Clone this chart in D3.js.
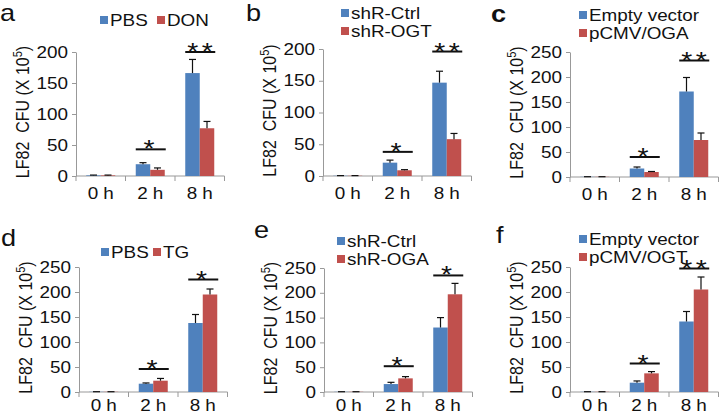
<!DOCTYPE html>
<meta charset="utf-8">
<style>
body {
  margin: 0;
  padding: 0;
  background: #fff;
}
text {
  font-family: "Liberation Sans", Arial, sans-serif;
  fill: #111;
}
.axis path, .axis line {
  stroke: #999;
  stroke-width: 1px;
}
.axis text {
  font-size: 16px;
}
</style>
<body>
<script src="https://cdn.jsdelivr.net/npm/d3@7/dist/d3.min.js"></script>
<script>

// ---- data ----
var times = ["0 h", "2 h", "8 h"];
var panelLetters = ["a", "b", "c", "d", "e", "f"];
var blueNames = ["PBS", "shR-Ctrl", "Empty vector", "PBS", "shR-Ctrl", "Empty vector"];
var redNames = ["DON", "shR-OGT", "pCMV/OGA", "TG", "shR-OGA", "pCMV/OGT"];
var yMaxes = [200, 200, 250, 250, 250, 250];

var blueValues = [[1, 19, 166], [0.4, 21, 147], [0.4, 17, 171], [0.4, 16.6, 138], [0.4, 16, 130], [0.4, 18.6, 141]];
var blueErrors = [[0.5, 2.5, 22], [0.2, 4, 18], [0.2, 3, 28], [0.2, 1.5, 17], [0.2, 3.5, 20], [0.2, 3.5, 20]];
var redValues = [[1, 10, 77], [0.4, 9, 58], [0.4, 10, 74], [0.4, 22.6, 195], [0.4, 27.5, 197], [0.4, 37.3, 205]];
var redErrors = [[0.5, 3, 11], [0.2, 1, 9], [0.2, 1, 14], [0.2, 4.5, 11], [0.2, 3.5, 22], [0.2, 3.5, 25]];

// significance marks at 2 h and 8 h, and the height of their bars (data units)
var sigStars = [["*", "**"], ["*", "**"], ["*", "**"], ["*", "*"], ["*", "*"], ["*", "**"]];
var sigLevels = [[43, 200], [38, 196], [40, 233], [46, 225], [52, 235], [57, 247]];

var yTitle = "LF82\u00a0\u00a0CFU (X 10";

// ---- layout (pixels) ----
var W = 719, H = 416;
var axisX = [76, 323, 570, 79, 324, 570];
var baseY = [176, 176, 177, 392, 392, 392];
var topY = [52, 49, 52, 267, 268, 267];
var tickLabelY = [23, 23, 23, 19, 19, 19];
var bandW = 49.5;
var barW = 14.5;
var letterPos = [[0, 21], [246, 21], [491, 22], [1, 246], [254, 238], [496, 243]];
var legendX = [100, 341, 579, 101, 337, 579];
var legendY = [26, 19, 21, 258, 247, 245];
var legendRows = [false, true, true, false, true, true];
var legendGap = [57, 0, 0, 52, 0, 0];
var kx = 1.18; // the figure is a little wider than tall

var blue = "#4f81bd", red = "#c0504d";

var svg = d3.select("body").append("svg")
    .attr("width", W)
    .attr("height", H);

// widen a text horizontally around its own anchor
function widen(t, x, y, extra) {
  t.attr("x", null).attr("y", null)
   .attr("transform", "translate(" + x + "," + y + ") scale(" + kx + ",1)" + (extra || ""));
  return t;
}

panelLetters.forEach(function(letter, p) {
  var g = svg.append("g");
  var x0 = axisX[p];

  var x = d3.scaleBand()
      .domain(times)
      .range([x0, x0 + 3 * bandW]);

  var xs = d3.scaleBand()
      .domain(["blue", "red"])
      .range([(bandW - 2 * barW) / 2, (bandW + 2 * barW) / 2]);

  var y = d3.scaleLinear()
      .domain([0, yMaxes[p]])
      .range([baseY[p], topY[p]]);

  // y axis
  var ya = g.append("g")
      .attr("class", "axis")
      .attr("transform", "translate(" + x0 + ",0)")
      .call(d3.axisLeft(y)
        .tickValues(d3.range(0, yMaxes[p] + 1, 50))
        .tickSizeInner(4)
        .tickSizeOuter(0)
        .tickPadding(4));
  ya.selectAll(".tick text").each(function() {
    widen(d3.select(this), -8, 0);
  });

  // x axis
  var xa = g.append("g")
      .attr("class", "axis")
      .attr("transform", "translate(0," + baseY[p] + ")");
  xa.append("line")
      .attr("x1", x0).attr("x2", x0 + 3 * bandW);
  xa.selectAll(".tk")
    .data(d3.range(4))
    .enter().append("line")
      .attr("x1", function(i) { return x0 + i * bandW; })
      .attr("x2", function(i) { return x0 + i * bandW; })
      .attr("y1", 0).attr("y2", 5);
  xa.selectAll(".lbl")
    .data(times)
    .enter().append("text")
      .attr("text-anchor", "middle")
      .text(function(d) { return d; })
      .each(function(d) {
        widen(d3.select(this), x(d) + bandW / 2, tickLabelY[p]);
      });

  // bars + error bars
  var series = [
    {key: "blue", color: blue, vals: blueValues[p], errs: blueErrors[p]},
    {key: "red", color: red, vals: redValues[p], errs: redErrors[p]}
  ];
  series.forEach(function(s) {
    times.forEach(function(t, i) {
      var bx = x(t) + xs(s.key);
      var cx = bx + xs.bandwidth() / 2;
      g.append("rect")
          .attr("x", bx)
          .attr("y", y(s.vals[i]))
          .attr("width", xs.bandwidth())
          .attr("height", y(0) - y(s.vals[i]))
          .attr("fill", s.color);
      var top = y(s.vals[i] + s.errs[i]);
      g.append("line")
          .attr("x1", cx).attr("x2", cx)
          .attr("y1", y(s.vals[i])).attr("y2", top)
          .attr("stroke", "#111").attr("stroke-width", 1.2);
      g.append("line")
          .attr("x1", cx - 3.5).attr("x2", cx + 3.5)
          .attr("y1", top).attr("y2", top)
          .attr("stroke", "#111").attr("stroke-width", 1.2);
    });
  });

  // significance
  [1, 2].forEach(function(i, k) {
    var lx = x(times[i]) + xs("blue");
    var ly = y(sigLevels[p][k]);
    g.append("line")
        .attr("x1", lx).attr("x2", lx + 2 * barW + 1)
        .attr("y1", ly).attr("y2", ly)
        .attr("stroke", "#111").attr("stroke-width", 2);
    var st = g.append("text")
        .attr("text-anchor", "middle")
        .style("font-size", "24px")
        .style("letter-spacing", "3px")
        .text(sigStars[p][k]);
    widen(st, lx + barW + 0.5 + (sigStars[p][k].length > 1 ? 1.5 : 0), ly + 8);
  });

  // y title
  var cy = (baseY[p] + topY[p]) / 2 - 2;
  var tt = g.append("text")
      .attr("text-anchor", "middle")
      .style("font-size", "16px")
      .text(yTitle);
  widen(tt, x0 - 47, cy, " rotate(-90)");
  tt.append("tspan")
      .attr("dy", -6)
      .style("font-size", "11px")
      .text("5");
  tt.append("tspan")
      .attr("dy", 6)
      .text(")");

  // panel letter
  var lt = g.append("text")
      .style("font-size", "23px")
      .style("font-weight", letter === "c" ? "bold" : "normal")
      .text(letter);
  widen(lt, letterPos[p][0], letterPos[p][1]);

  // legend
  var names = [blueNames[p], redNames[p]];
  var colors = [blue, red];
  names.forEach(function(n, k) {
    var lx = legendX[p], ly = legendY[p];
    if (legendRows[p]) {
      ly += k * 18;
    } else if (k === 1) {
      lx += legendGap[p];
    }
    g.append("rect")
        .attr("x", lx).attr("y", ly - 10)
        .attr("width", 8).attr("height", 8)
        .attr("fill", colors[k]);
    var nt = g.append("text")
        .style("font-size", "16px")
        .text(n);
    widen(nt, lx + 10, ly);
  });
});

</script>
</body>
